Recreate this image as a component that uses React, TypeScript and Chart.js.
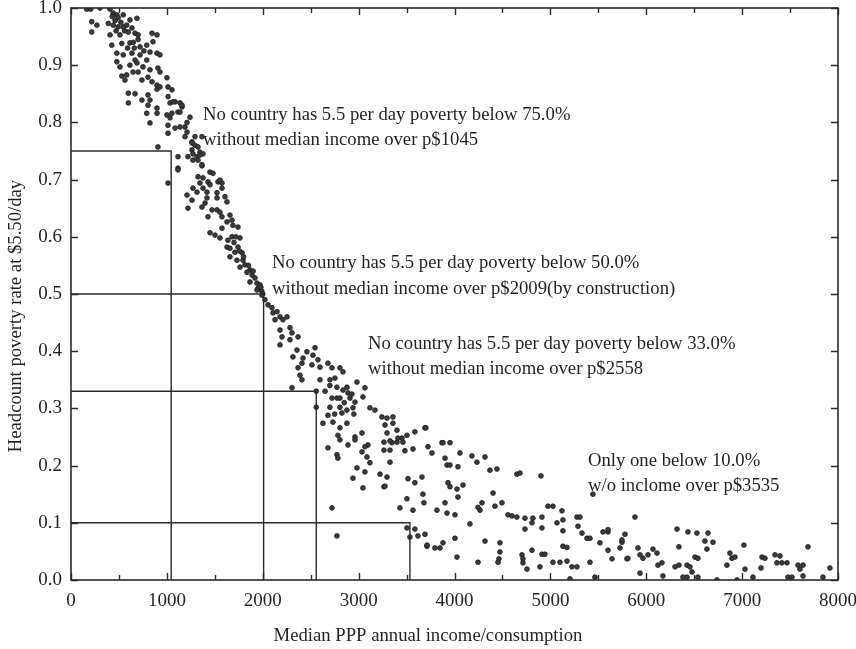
import React, { useEffect, useRef } from "react";
import { Chart, registerables } from "chart.js";

Chart.register(...registerables);

// ---- Data (median PPP annual income, headcount poverty rate at $5.50/day) ----
const highPoverty: [number, number][] = [
  [164,0.998],[205,0.998],[302,1.0],[407,0.998],[440,0.991],[478,0.988],[492,0.983],[545,0.988],[615,0.979],[688,0.982],
  [216,0.976],[270,0.97],[216,0.958],[389,0.973],[441,0.97],[492,0.967],[545,0.967],[581,0.97],[636,0.965],[598,0.958],
  [668,0.956],[700,0.953],[407,0.953],[511,0.953],[845,0.956],[897,0.953],[425,0.935],[530,0.938],[615,0.939],[720,0.932],
  [790,0.935],[855,0.941],[824,0.923],[897,0.921],[928,0.918],[478,0.921],[545,0.918],[636,0.921],[720,0.918],[668,0.909],
  [790,0.909],[478,0.906],[511,0.897],[615,0.9],[688,0.904],[751,0.897],[824,0.892],[907,0.895],[928,0.888],[1001,0.878],
  [530,0.881],[581,0.883],[647,0.888],[700,0.888],[740,0.874],[803,0.879],[845,0.871],[897,0.865],[563,0.874],
  [430,0.985],[460,0.978],[520,0.975],[560,0.96],[470,0.96],[650,0.94],[700,0.945],[760,0.925],[590,0.93],[660,0.93],
  [598,0.851],[668,0.85],[740,0.839],[803,0.848],[824,0.839],[598,0.834],[803,0.83],[897,0.858],[928,0.862],[1053,0.857],
  [1012,0.845],[1085,0.836],[1137,0.834],[1033,0.834],[1158,0.827],[897,0.825],[790,0.816],[1001,0.813],[1053,0.816],[1116,0.818],
  [1241,0.809],[824,0.799],[1012,0.795],[1033,0.808],[1085,0.79],[1137,0.792],[1189,0.792],[1210,0.783],[1012,0.781],[1189,0.775],
  [1293,0.775],[1366,0.775],[1262,0.766],[1293,0.76],[1325,0.757],[907,0.757],[1262,0.752],[1345,0.748],[1377,0.745],[1314,0.74],
  [1272,0.734],[1325,0.734],[1116,0.74],[1220,0.74],[1366,0.724],[1116,0.72],
  [1012,0.862],[1064,0.836],[1158,0.83],[1137,0.818],[897,0.816],[1210,0.8],[1345,0.743],[1366,0.726]
];

const midPoverty: [number, number][] = [
  [1012,0.694],[1116,0.717],[1272,0.745],[1262,0.764],[1450,0.713],[1481,0.711],[1325,0.705],[1377,0.703],[1429,0.696],[1533,0.696],
  [1575,0.694],[1345,0.694],[1272,0.685],[1377,0.685],[1450,0.691],[1575,0.685],[1554,0.699],[1210,0.673],[1262,0.664],[1314,0.678],
  [1418,0.678],[1523,0.677],[1606,0.67],[1627,0.661],[1523,0.668],[1418,0.668],[1220,0.65],[1366,0.652],[1398,0.659],[1471,0.647],
  [1523,0.647],[1554,0.643],[1429,0.635],[1575,0.635],[1658,0.638],[1679,0.629],[1627,0.626],[1575,0.615],[1689,0.62],[1742,0.617],
  [1450,0.607],[1502,0.603],[1554,0.598],[1679,0.6],[1637,0.594],[1763,0.598],[1627,0.582],[1658,0.58],[1710,0.573],[1742,0.582],
  [1784,0.572],[1658,0.565],[1731,0.559],[1794,0.559],[1815,0.551],[1763,0.547],[1867,0.542],[1836,0.538],[1888,0.533],[1919,0.528],
  [1940,0.519],[1971,0.516],[1950,0.51],[1990,0.505],[2000,0.5],[1980,0.512],[1900,0.54],[1850,0.55],[1800,0.565],[1760,0.575],
  [1700,0.59],[1720,0.6],[1867,0.521],[1940,0.507],[1992,0.498],[2023,0.49],[2055,0.481],[2096,0.476],[2107,0.467],[2149,0.469],
  [2128,0.455],[2180,0.46],[2211,0.455],[2253,0.46],[2180,0.437],[2201,0.425],[2180,0.411],[2284,0.441],[2305,0.432],[2284,0.42],
  [2368,0.425],[2357,0.402],[2315,0.39],[2461,0.399],[2524,0.393],[2545,0.406],[2420,0.388],[2409,0.379],[2513,0.376],[2576,0.385],
  [2597,0.372],[2368,0.371],[2388,0.358],[2409,0.35],[2597,0.35],[2680,0.379],[2722,0.371],[2805,0.371],[2837,0.364],[2701,0.35],
  [2753,0.353],[2774,0.337],[2837,0.332],[2878,0.337],[2889,0.327],[2305,0.336],[2558,0.33],[2558,0.302],[2722,0.318],[2774,0.318],
  [2805,0.318],[2910,0.318],[2983,0.346],[3066,0.336],[3045,0.32],[2962,0.311],[2941,0.301],[2701,0.302],[2680,0.288],[2805,0.302],
  [2878,0.297],[2826,0.292],[2732,0.276],[2628,0.274],[2878,0.274],[3118,0.301],[3170,0.297],[3243,0.285],[3296,0.283],[3358,0.285],
  [3275,0.271],[3358,0.274],[2750,0.29],[2850,0.31],[2930,0.325],[2650,0.33],[2700,0.34],[2950,0.29]
];

const lowPoverty: [number, number][] = [
  [2805,0.266],[2784,0.253],[2805,0.245],[2889,0.236],[2962,0.25],[3035,0.257],[3097,0.236],[3296,0.257],[3400,0.262],[3452,0.248],
  [3348,0.24],[3504,0.253],[3587,0.259],[3692,0.266],[3723,0.233],[3869,0.24],[3953,0.24],
  [2722,0.126],[2774,0.077],[2680,0.231],[2774,0.219],[2784,0.213],[2962,0.245],[3066,0.233],[3035,0.224],[3087,0.215],[3118,0.205],
  [2983,0.196],[3066,0.189],[2941,0.178],[3045,0.161],[3223,0.185],[3296,0.18],[3264,0.163],[3327,0.206],[3264,0.227],[3327,0.227],
  [3264,0.241],[3327,0.243],[3400,0.241],[3483,0.226],[3567,0.229],[3661,0.18],[3587,0.17],[3515,0.177],[3504,0.142],[3671,0.15],
  [3681,0.135],[3567,0.122],[3431,0.126],[3504,0.091],[3535,0.075],[3587,0.089],[3619,0.077],[3692,0.08],[3713,0.059],[3702,0.266],
  [3410,0.248],[3462,0.241],[3765,0.222],[3880,0.24],[4057,0.222],[3901,0.213],[3922,0.201],[3953,0.201],[4036,0.198],[4182,0.217],
  [4234,0.206],[4318,0.215],[4370,0.192],[4443,0.194],[4651,0.185],[4683,0.187],[4902,0.182],[3275,0.164],[3932,0.17],[3953,0.163],
  [4026,0.159],[4089,0.166],[4036,0.145],[4402,0.152],[3817,0.122],[3901,0.135],[3922,0.117],[4005,0.114],[4161,0.098],[4266,0.122],
  [4245,0.127],[4287,0.135],[4422,0.129],[4495,0.135],[4558,0.114],[4600,0.112],[4651,0.11],[4735,0.108],[4818,0.108],[4912,0.11],
  [4975,0.129],[5027,0.129],[5121,0.121],[5131,0.105],[5277,0.11],[5309,0.11],[5444,0.15]
];

const veryLowPoverty: [number, number][] = [
  [4735,0.089],[4808,0.1],[4912,0.091],[5069,0.1],[5131,0.086],[5288,0.094],[5330,0.082],[5382,0.073],[5413,0.073],[5517,0.065],
  [5549,0.084],[5601,0.084],[5601,0.052],[5643,0.037],[5747,0.066],[5726,0.056],[5799,0.037],[5778,0.08],[3713,0.061],[3796,0.056],
  [3849,0.056],[3880,0.065],[4005,0.073],[4026,0.04],[4245,0.031],[4318,0.068],[4474,0.065],[4474,0.049],[4464,0.037],[4454,0.031],
  [4704,0.044],[4714,0.037],[4714,0.03],[4756,0.019],[4808,0.052],[4912,0.045],[4943,0.045],[4891,0.023],[5027,0.031],[5100,0.031],
  [5173,0.033],[5131,0.059],[5173,0.057],[5225,0.023],[5277,0.023],[5204,0.002],[5413,0.031],[5465,0.005],
  [5882,0.11],[5601,0.088],[5747,0.07],[5809,0.038],[5914,0.056],[5935,0.044],[5966,0.038],[6018,0.044],[6070,0.054],[6112,0.047],
  [6122,0.026],[6164,0.03],[5935,0.012],[6174,0.007],[6321,0.089],[6435,0.084],[6529,0.082],[6644,0.082],[6612,0.068],[6696,0.066],
  [6341,0.058],[6633,0.054],[6508,0.04],[6539,0.038],[6300,0.023],[6341,0.026],[6425,0.026],[6456,0.023],[6477,0.014],[6383,0.005],
  [6425,0.005],[6539,0.005],[6738,0.0],[6946,0.0],[7019,0.061],[6873,0.047],[6894,0.038],[6925,0.04],[6842,0.026],[7030,0.019],
  [7113,0.005],[7207,0.04],[7238,0.038],[7197,0.021],[7343,0.044],[7395,0.042],[7363,0.03],[7415,0.03],[7468,0.03],[7520,0.005],
  [7583,0.026],[7635,0.026],[7603,0.019],[7635,0.007],[7687,0.058],[7843,0.005],[7916,0.021],[7478,0.005]
];

const thresholdRates = [0.75, 0.5, 0.33, 0.1];
const thresholdIncomes = [1045, 2009, 2558, 3535];

const noteLines: string[][] = [
  ["No country has 5.5 per day poverty below 75.0%", "without median income over p$1045"],
  ["No country has 5.5 per day poverty below 50.0%", "without median income over p$2009(by construction)"],
  ["No country has 5.5 per day poverty below 33.0%", "without median income over p$2558"],
  ["Only one below 10.0%", "w/o inclome over p$3535"],
];
const noteAnchorX = [1377, 2096, 3098, 5392];
const noteAnchorY = [0.813, 0.554, 0.413, 0.208];

const xTitle = "Median PPP annual income/consumption";
const yTitle = "Headcount poverty rate at $5.50/day";

const FONT = "'Liberation Serif', 'DejaVu Serif', serif";
const INK = "#231f20";

const framePlugin = {
  id: "frameTicksNotes",
  afterDatasetsDraw(chart: any) {
    const { ctx, chartArea, scales } = chart;
    const { left, right, top, bottom } = chartArea;
    const xs = scales.x;
    const ys = scales.y;
    ctx.save();
    ctx.strokeStyle = "#2a2a2a";
    ctx.lineWidth = 1.6;
    ctx.strokeRect(left, top, right - left, bottom - top);
    ctx.lineWidth = 1.4;
    ctx.beginPath();
    for (let v = 0; v <= 8000; v += 500) {
      const px = Math.round(xs.getPixelForValue(v)) + 0.5;
      const len = v % 1000 === 0 ? 7 : 5;
      ctx.moveTo(px, bottom);
      ctx.lineTo(px, bottom - len);
      ctx.moveTo(px, top);
      ctx.lineTo(px, top + len);
    }
    for (let i = 0; i <= 10; i++) {
      const py = Math.round(ys.getPixelForValue(i / 10)) + 0.5;
      ctx.moveTo(left, py);
      ctx.lineTo(left + 7, py);
      ctx.moveTo(right, py);
      ctx.lineTo(right - 7, py);
    }
    ctx.stroke();

    ctx.fillStyle = INK;
    ctx.font = `18.7px ${FONT}`;
    ctx.textAlign = "left";
    ctx.textBaseline = "middle";
    noteLines.forEach((lines, i) => {
      const nx = xs.getPixelForValue(noteAnchorX[i]);
      const ny = ys.getPixelForValue(noteAnchorY[i]);
      lines.forEach((t, j) => ctx.fillText(t, nx, ny + j * 25.5));
    });

    ctx.textAlign = "center";
    ctx.fillText(xTitle, chart.width / 2, 636);
    ctx.translate(16, 316);
    ctx.rotate(-Math.PI / 2);
    ctx.fillText(yTitle, 0, 0);
    ctx.restore();
  },
};

export default function App() {
  const ref = useRef<HTMLCanvasElement | null>(null);
  useEffect(() => {
    if (!ref.current) return;
    const points = [...highPoverty, ...midPoverty, ...lowPoverty, ...veryLowPoverty].map(([x, y]) => ({ x, y }));
    const lineSets = thresholdRates.map((r, i) => ({
      type: "line" as const,
      data: [
        { x: 0, y: r },
        { x: thresholdIncomes[i], y: r },
        { x: thresholdIncomes[i], y: 0 },
      ],
      showLine: true,
      borderColor: "#2a2a2a",
      borderWidth: 1.4,
      pointRadius: 0,
      fill: false,
      tension: 0,
    }));
    const chart = new Chart(ref.current, {
      type: "scatter",
      data: {
        datasets: [
          ...lineSets,
          {
            type: "scatter",
            data: points,
            pointRadius: 2.4,
            backgroundColor: "#3c3c3c",
            borderColor: "#1c1c1c",
            borderWidth: 0.8,
          },
        ] as any,
      },
      options: {
        responsive: false,
        animation: false,
        layout: { padding: { left: 0, right: 18, top: 8, bottom: 0 } },
        plugins: { legend: { display: false }, tooltip: { enabled: false } },
        scales: {
          x: {
            type: "linear",
            min: 0,
            max: 8000,
            grid: { display: false, drawTicks: false },
            border: { display: false },
            ticks: {
              stepSize: 1000,
              padding: 10,
              color: INK,
              font: { family: FONT, size: 19 },
              maxRotation: 0,
              callback: (v: any) => String(v),
            },
            afterFit: (s: any) => {
              s.height = 69;
              s.paddingLeft = 0;
              s.paddingRight = 0;
            },
          },
          y: {
            type: "linear",
            min: 0,
            max: 1,
            grid: { display: false, drawTicks: false },
            border: { display: false },
            ticks: {
              stepSize: 0.1,
              padding: 9,
              color: INK,
              font: { family: FONT, size: 19 },
              callback: (v: any) => Number(v).toFixed(1),
            },
            afterFit: (s: any) => {
              s.width = 71;
              s.paddingTop = 0;
              s.paddingBottom = 0;
            },
          },
        },
      },
      plugins: [framePlugin],
    });
    return () => chart.destroy();
  }, []);
  return (
    <div style={{ position: "fixed", left: 0, top: 0, width: 856, height: 649, background: "#fff" }}>
      <canvas ref={ref} width={856} height={649} />
    </div>
  );
}
